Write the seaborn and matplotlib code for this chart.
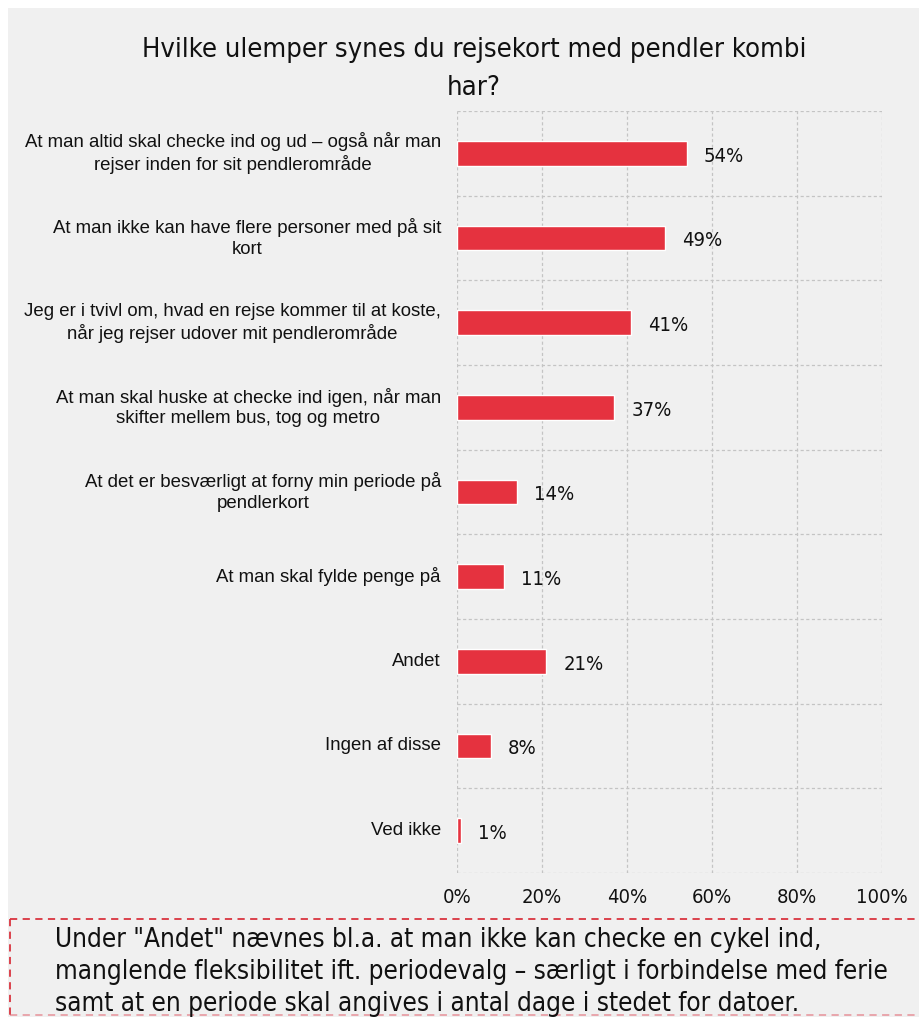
import matplotlib
matplotlib.use("Agg")
import matplotlib.pyplot as plt
import seaborn as sns
import pandas as pd
from matplotlib.patches import Rectangle
from matplotlib.ticker import FuncFormatter
from matplotlib import font_manager as fm

categories = [
    "At man altid skal checke ind og ud – også når man\nrejser inden for sit pendlerområde",
    "At man ikke kan have flere personer med på sit\nkort",
    "Jeg er i tvivl om, hvad en rejse kommer til at koste,\nnår jeg rejser udover mit pendlerområde",
    "At man skal huske at checke ind igen, når man\nskifter mellem bus, tog og metro",
    "At det er besværligt at forny min periode på\npendlerkort",
    "At man skal fylde penge på",
    "Andet",
    "Ingen af disse",
    "Ved ikke",
]
values = [54, 49, 41, 37, 14, 11, 21, 8, 1]
xticks = [0, 20, 40, 60, 80, 100]
title = "Hvilke ulemper synes du rejsekort med pendler kombi\nhar?"
note = ("Under \"Andet\" nævnes bl.a. at man ikke kan checke en cykel ind,\n"
        "manglende fleksibilitet ift. periodevalg – særligt i forbindelse med ferie\n"
        "samt at en periode skal angives i antal dage i stedet for datoer.")

df = pd.DataFrame({"cat": categories, "val": values})

sns.set_style("white")
plt.rcParams["font.family"] = ["Liberation Sans", "DejaVu Sans"]

# look for a condensed face
cond = [f for f in fm.fontManager.ttflist if "ondensed" in f.name or f.stretch in ("condensed", "semi-condensed", 600, 700) or "Narrow" in f.name]
NARROW_PROPS = None
for f in cond:
    NARROW_PROPS = fm.FontProperties(fname=f.fname)
    if "Regular" in f.fname or "Condensed.ttf" in f.fname:
        break
COND_FOUND = NARROW_PROPS is not None
if NARROW_PROPS is None:
    NARROW_PROPS = fm.FontProperties(family="DejaVu Sans")

def narrow(size):
    p = NARROW_PROPS.copy()
    p.set_size(size)
    return p

W, H = 919, 1017
fig = plt.figure(figsize=(W / 100, H / 100), dpi=100)
fig.patch.set_facecolor("white")
bg = "#f0f0f0"
fig.patches.append(Rectangle((8 / W, 0), 1, 1 - 8 / H, transform=fig.transFigure,
                             facecolor=bg, edgecolor="none", zorder=-10))

ax = fig.add_axes([457 / W, 1 - 873 / H, (882 - 457) / W, (873 - 111) / H])
ax.set_facecolor(bg)
sns.barplot(data=df, x="val", y="cat", orient="h", color="#e5323f",
            width=0.29, ax=ax, saturation=1)
ax.set_xlim(0, 100)
n = len(categories)
ax.set_ylim(n - 0.5, -0.5)
ax.set_xticks(xticks)
ax.xaxis.set_major_formatter(FuncFormatter(lambda v, p: f"{int(v)}%"))
ax.tick_params(axis="x", length=0, pad=11, colors="#111111")
tsize = 14.5 if COND_FOUND else 12.5
for lab in ax.get_xticklabels():
    lab.set_fontproperties(narrow(tsize))
ax.set_yticks([])
ax.set_xlabel("")
ax.set_ylabel("")

grid_kw = dict(color="#c4c4c4", lw=0.9, ls=(0, (2.5, 2)), zorder=0)
for x in xticks:
    ax.axvline(x, **grid_kw)
for i in range(n + 1):
    ax.axhline(i - 0.5, **grid_kw)
for s in ax.spines.values():
    s.set_visible(False)

for i, (c, v) in enumerate(zip(categories, values)):
    ax.annotate(c, xy=(0, i), xycoords=("axes fraction", "data"), xytext=(-16, 0),
                textcoords="offset pixels", ha="right", va="center",
                multialignment="center", fontsize=13.4, color="#111111",
                linespacing=1.27)
    ax.annotate(f"{v}%", xy=(v, i), xytext=(17, -3), textcoords="offset pixels",
                ha="left", va="center", color="#111111",
                fontproperties=narrow(tsize))

fig.text(474 / W, 1 - 69 / H, title, ha="center", va="center",
         color="#111111", fontproperties=narrow(19.6 if COND_FOUND else 17.0), linespacing=1.6)

# note box
fig.add_artist(plt.Line2D([10 / W, 1], [1 - 919 / H, 1 - 919 / H], transform=fig.transFigure,
                          color="#d9343f", lw=1.3, ls=(0, (4, 3))))
fig.add_artist(plt.Line2D([10 / W, 1], [1 - 1015 / H, 1 - 1015 / H], transform=fig.transFigure,
                          color="#e8a0a6", lw=1.3, ls=(0, (4, 3))))
fig.add_artist(plt.Line2D([10 / W, 10 / W], [1 - 919 / H, 1 - 1015 / H], transform=fig.transFigure,
                          color="#d9343f", lw=1.3, ls=(0, (4, 3))))
fig.text(55 / W, 1 - 972 / H, note, ha="left", va="center",
         color="#111111", fontproperties=narrow(18.7 if COND_FOUND else 15.5), linespacing=1.28)

fig.savefig("out.png", dpi=100, facecolor=fig.get_facecolor())
